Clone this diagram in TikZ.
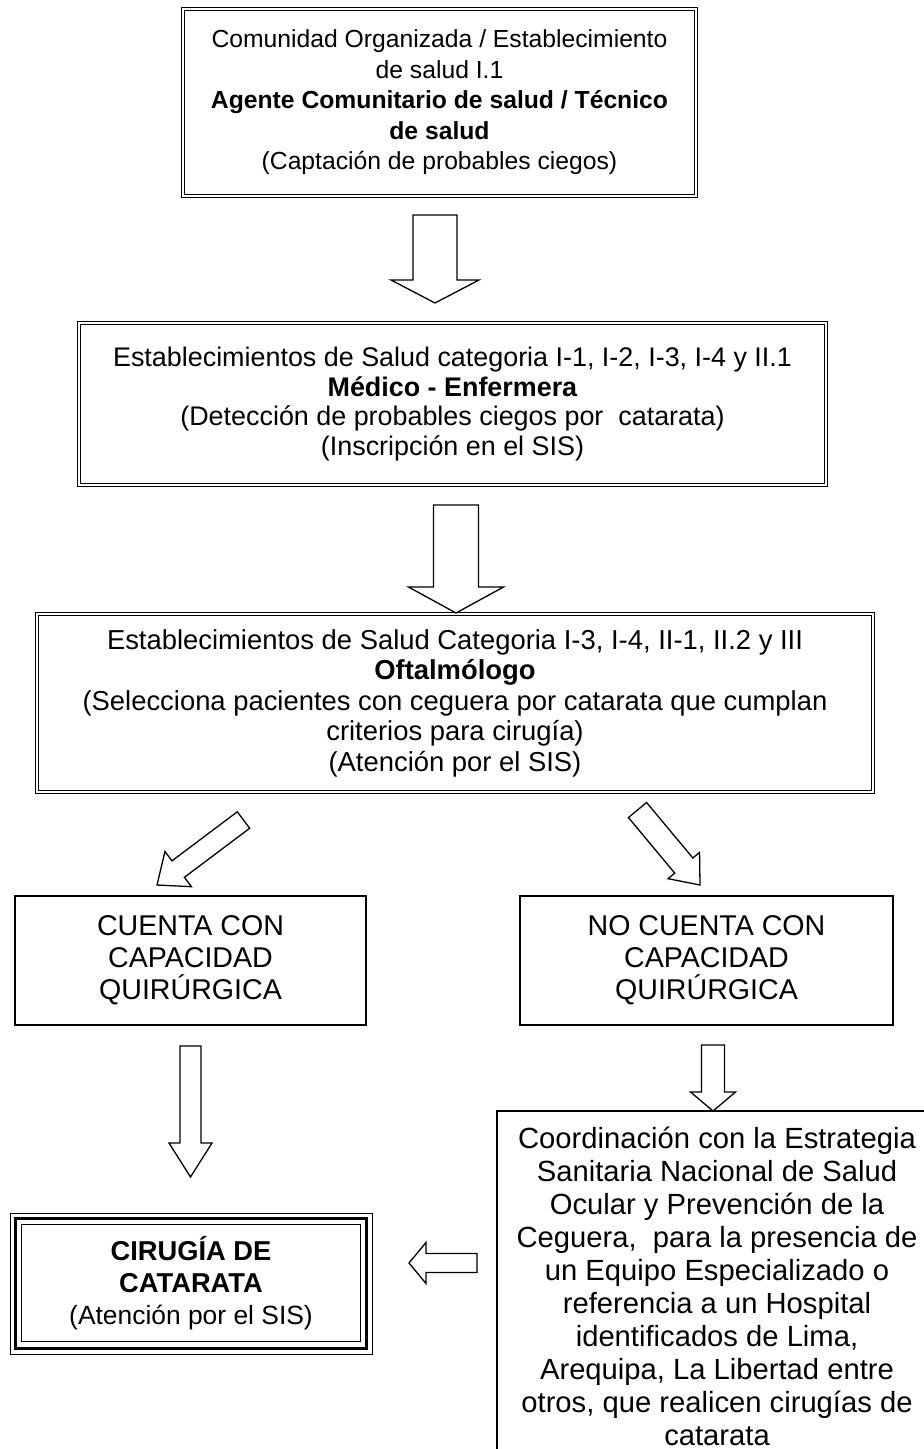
\documentclass[tikz,border=0pt]{standalone}
\usepackage{fontspec}
\setmainfont{Liberation Sans}
\usetikzlibrary{calc}
\tikzset{
  dbox/.style={draw, line width=1.2pt, double=white, double distance=2pt, inner sep=0pt, align=center},
  sbox/.style={draw, line width=1.2pt, inner sep=0pt, align=center},
  arrowline/.style={draw, fill=white, line width=1.3pt, line join=miter},
}
\newcommand{\blkarrow}[5]{%
  \path[arrowline] ($(#1)!#3!90:(#2)$) -- ($(#2)!#5!(#1)!#3!90:(#2)$) -- ($(#2)!#5!(#1)!#4!90:(#2)$)
    -- (#2) -- ($(#2)!#5!(#1)!#4!-90:(#2)$) -- ($(#2)!#5!(#1)!#3!-90:(#2)$) -- ($(#1)!#3!-90:(#2)$) -- cycle;}
\begin{document}
\begin{tikzpicture}[x=1pt,y=-1pt]
\useasboundingbox (0,0) rectangle (924,1449);
\fill[white] (0,0) rectangle (924,1449);
\clip (0,0) rectangle (924,1449);

% top box
\node[dbox, minimum width=512.6pt, minimum height=186.6pt, font=\fontsize{24.7}{30.5}\selectfont] (b1) at (439.5,102.5)
  {Comunidad Organizada / Establecimiento\\ de salud I.1\\ \textbf{Agente Comunitario de salud / Técnico}\\ \textbf{de salud}\\ (Captación de probables ciegos)};

% box 2
\node[dbox, minimum width=746.6pt, minimum height=161.6pt, font=\fontsize{26.9}{29.5}\selectfont] (b2) at (452.5,404)
  {Establecimientos de Salud categoria I-1, I-2, I-3, I-4 y II.1\\ \textbf{Médico - Enfermera}\\ (Detección de probables ciegos por\ \ catarata)\\ (Inscripción en el SIS)};

% box 3
\node[dbox, minimum width=835.6pt, minimum height=177.6pt, font=\fontsize{27.4}{30.5}\selectfont] (b3) at (455,703)
  {Establecimientos de Salud Categoria I-3, I-4, II-1, II.2 y III\\ \textbf{Oftalmólogo}\\ (Selecciona pacientes con ceguera por catarata que cumplan\\ criterios para cirugía)\\ (Atención por el SIS)};

% capacity boxes
\node[sbox, minimum width=351pt, minimum height=129pt, font=\fontsize{28.6}{32}\selectfont] (cc) at (190.5,960.5)
  {CUENTA CON\\ CAPACIDAD\\ QUIRÚRGICA};
\node[sbox, minimum width=373pt, minimum height=129pt, font=\fontsize{28.6}{32}\selectfont] (nc) at (706.5,960.5)
  {NO CUENTA CON\\ CAPACIDAD\\ QUIRÚRGICA};

% coordination box (runs past the page edge)
\node[sbox, minimum width=440pt, minimum height=351pt, font=\fontsize{29.2}{33}\selectfont] (co) at (717,1286.5)
  {Coordinación con la Estrategia\\ Sanitaria Nacional de Salud\\ Ocular y Prevención de la\\ Ceguera,\ \ para la presencia de\\ un Equipo Especializado o\\ referencia a un Hospital\\ identificados de Lima,\\ Arequipa, La Libertad entre\\ otros, que realicen cirugías de\\ catarata};

% surgery box, triple border
\node[draw, line width=1pt, inner sep=0pt, align=center, minimum width=362pt, minimum height=141pt, font=\fontsize{26.4}{32}\selectfont] (cir) at (191,1283.5)
  {\fontsize{27.3}{32}\selectfont\textbf{CIRUGÍA DE}\\ \fontsize{27.3}{32}\selectfont\textbf{CATARATA}\\ (Atención por el SIS)};
\draw[line width=3.2pt] ($(cir.south west)+(6,-6)$) rectangle ($(cir.north east)+(-6,6)$);
\draw[line width=1pt] ($(cir.south west)+(12,-13)$) rectangle ($(cir.north east)+(-12,12)$);

% arrow end points
\coordinate (a1s) at (435,215);   \coordinate (a1e) at (435,303);
\coordinate (a2s) at (456,505);   \coordinate (a2e) at (456,613);
\coordinate (a3s) at (243.5,820); \coordinate (a3e) at (157,885);
\coordinate (a4s) at (637.5,810); \coordinate (a4e) at (700,885);
\coordinate (a5s) at (190.5,1046);\coordinate (a5e) at (190.5,1177);
\coordinate (a6s) at (713,1045);  \coordinate (a6e) at (713,1111);
\coordinate (a7s) at (477,1263);  \coordinate (a7e) at (409,1263);

\blkarrow{a1s}{a1e}{22pt}{44pt}{23pt}
\blkarrow{a2s}{a2e}{22.5pt}{47.5pt}{26pt}
\blkarrow{a3s}{a3e}{10.3pt}{22pt}{26.5pt}
\blkarrow{a4s}{a4e}{11.8pt}{20.5pt}{25.3pt}
\blkarrow{a5s}{a5e}{10.5pt}{21.5pt}{34pt}
\blkarrow{a6s}{a6e}{11.5pt}{22.5pt}{19pt}
\blkarrow{a7s}{a7e}{9.5pt}{20.5pt}{17pt}
\end{tikzpicture}
\end{document}
